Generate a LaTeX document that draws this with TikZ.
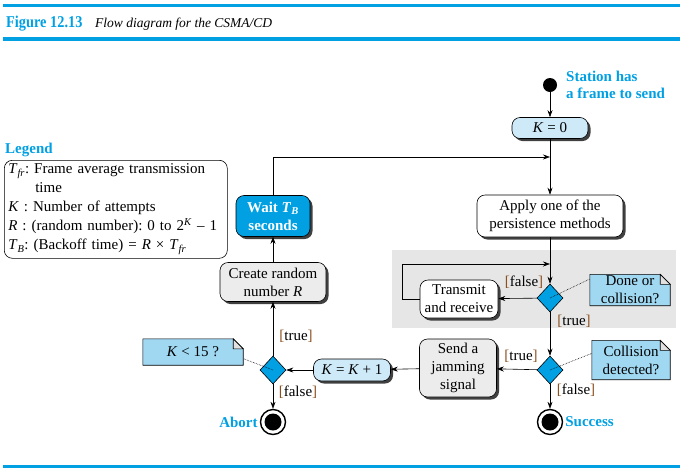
\documentclass[tikz,border=0pt]{standalone}
\usepackage{fontspec}
\setmainfont{Liberation Serif}
\usetikzlibrary{arrows.meta,shapes.geometric,shadows,calc,backgrounds}
\definecolor{figblue}{RGB}{0,160,227}
\definecolor{notefill}{RGB}{160,216,242}
\definecolor{kfill}{RGB}{206,233,248}
\definecolor{boxgray}{RGB}{236,236,236}
\definecolor{areagray}{RGB}{230,230,230}
\definecolor{foldgray}{RGB}{225,225,225}
\definecolor{brk}{RGB}{140,80,30}
\newcommand\brlab[1]{{\color{brk}[}#1{\color{brk}]}}
\frenchspacing
\begin{document}
\begin{tikzpicture}[x=1pt,y=-1pt,
  every node/.style={font=\fontsize{15}{18}\selectfont},
  shad/.style={drop shadow={shadow xshift=2.5pt,shadow yshift=-2.5pt,fill=black!75,opacity=1}},
  rbox/.style={draw=black,line width=0.6pt,rounded corners=8pt,align=center,inner sep=0pt,shad},
  dec/.style={diamond,draw=black,line width=0.6pt,fill=figblue,minimum width=26pt,minimum height=28pt,inner sep=0pt},
  arr/.style={-{Stealth[length=7pt,width=5pt]},line width=0.6pt},
  dotc/.style={densely dotted,line width=0.6pt},
  notebox/.style={inner sep=0pt,align=center},
  endnode/.style={circle,draw=black,line width=1.4pt,minimum size=25pt,inner sep=0pt,
    path picture={\fill[black] (path picture bounding box.center) circle (8.5pt);}},
  bluelab/.style={text=figblue,font=\fontsize{15}{17}\selectfont\bfseries,align=left},
  lab/.style={inner sep=1pt}
]
\useasboundingbox (0,0) rectangle (683,472);
% rules
\fill[figblue] (3,4) rectangle (680,7);
\fill[figblue] (3,37) rectangle (680,41);
\fill[figblue] (3,465) rectangle (680,468);
\node[anchor=base west,inner sep=0pt,text=figblue,font=\fontsize{16.5}{18}\selectfont\bfseries] (fig) at (6,27) {\scalebox{0.87}[1]{Figure 12.13}};
\node[anchor=base west,inner sep=0pt,font=\fontsize{13.5}{18}\selectfont\itshape] (cap) at (95,27) {Flow diagram for the CSMA/CD};

% legend
\node[anchor=base west,inner sep=0pt,bluelab] (legt) at (5,153) {Legend};
\node[draw=black,line width=0.6pt,rounded corners=8pt,anchor=north west,inner xsep=4pt,inner ysep=2pt,
  align=left,text width=215pt,minimum height=98pt,font=\fontsize{15}{19}\selectfont] (legend) at (4,160)
  {\textit{T}\textsubscript{\textit{fr}}: Frame average transmission\\
   \hspace*{27pt}time\\
   \textit{K} : Number of attempts\\
   \textit{R} : (random number): 0 to 2\textsuperscript{\textit{K}} – 1\\
   \textit{T}\textsubscript{\textit{B}}: (Backoff time) = \textit{R} × \textit{T}\textsubscript{\textit{fr}}};

% main nodes
\node[circle,fill=black,minimum size=14pt,inner sep=0pt] (start) at (550,85) {};
\node[anchor=west,bluelab,inner sep=0pt] (station) at (566,85) {Station has\\a frame to send};
\node[rbox,fill=kfill,minimum width=76pt,minimum height=21pt] (k0) at (550,128) {\textit{K} = 0};
\coordinate (j1) at (550,157);
\node[rbox,fill=white,minimum width=146pt,minimum height=42pt] (apply) at (550,216) {Apply one of the\\persistence methods};
\node[rbox,fill=figblue,minimum width=74pt,minimum height=41pt,text=white,font=\fontsize{15}{18}\selectfont\bfseries] (wait) at (273,216) {Wait \textit{T}\textsubscript{\textit{B}}\\seconds};
\node[rbox,fill=boxgray,minimum width=106pt,minimum height=39pt] (create) at (273,282) {Create random\\number \textit{R}};
\node[dec] (d1) at (550,298) {};
\coordinate (j2) at (550,264);
\node[rbox,fill=white,minimum width=78pt,minimum height=38pt] (transmit) at (459,299) {Transmit\\and receive};
\node[dec] (d2) at (550,370) {};
\node[rbox,fill=boxgray,minimum width=77pt,minimum height=58pt] (send) at (458,368) {Send a\\jamming\\signal};
\node[rbox,fill=kfill,minimum width=77pt,minimum height=22pt] (kk) at (352,370) {\textit{K} = \textit{K} + 1};
\node[dec] (d3) at (273,370) {};
\node[endnode] (success) at (550,422) {};
\node[endnode] (abort) at (273,422) {};
\node[anchor=west,bluelab,inner sep=2pt] (succt) at (success.east) {Success};
\node[anchor=east,bluelab,inner sep=2pt] (abortt) at (abort.west) {Abort};

% notes
\node[notebox,minimum width=80pt,minimum height=31pt] (note1) at (630,290) {Done or\\collision?};
\node[notebox,minimum width=78pt,minimum height=39pt] (note2) at (631,360) {Collision\\detected?};
\node[notebox,minimum width=100pt,minimum height=26pt] (note3) at (193,352) {\textit{K} < 15 ?};

\begin{scope}[on background layer]
  \fill[areagray] (392,250) rectangle (676,328);
  \foreach \n in {note1,note2,note3}{
    \draw[fill=notefill,line width=0.6pt] (\n.south west) -- (\n.north west) -- ($(\n.north east)+(-10,0)$)
      -- ($(\n.north east)+(0,10)$) -- (\n.south east) -- cycle;
    \draw[fill=foldgray,line width=0.6pt] ($(\n.north east)+(-10,0)$) -- ($(\n.north east)+(-10,10)$)
      -- ($(\n.north east)+(0,10)$) -- cycle;
  }
\end{scope}

% connectors
\draw[arr] (start) -- (k0);
\draw[arr] (k0) -- (apply);
\draw[arr] (wait.north) |- (j1);
\draw[arr] (apply) -- (d1);
\draw[arr] (d1) -- (transmit);
\draw[arr] (transmit.west) -- ++(-17,0) |- (j2);
\draw[arr] (d1) -- (d2);
\draw[arr] (d2) -- (send);
\draw[arr] (d2) -- (success);
\draw[arr] (send) -- (kk);
\draw[arr] (kk) -- (d3);
\draw[arr] (d3) -- (create);
\draw[arr] (create) -- (wait);
\draw[arr] (d3) -- (abort);
\draw[dotc] (d1.center) -- ($(note1.north west)!0.15!(note1.south west)$);
\draw[dotc] (d2.center) -- ($(note2.north west)!0.33!(note2.south west)$);
\draw[dotc] (d3.center) -- ($(note3.north east)!0.75!(note3.south east)$);

% labels
\node[lab] (l1) at (524,282) {\brlab{false}};
\node[lab] (l2) at (574,321) {\brlab{true}};
\node[lab] (l3) at (521,356) {\brlab{true}};
\node[lab] (l4) at (576,390) {\brlab{false}};
\node[lab] (l5) at (296,336) {\brlab{true}};
\node[lab] (l6) at (298,392) {\brlab{false}};
\end{tikzpicture}
\end{document}
